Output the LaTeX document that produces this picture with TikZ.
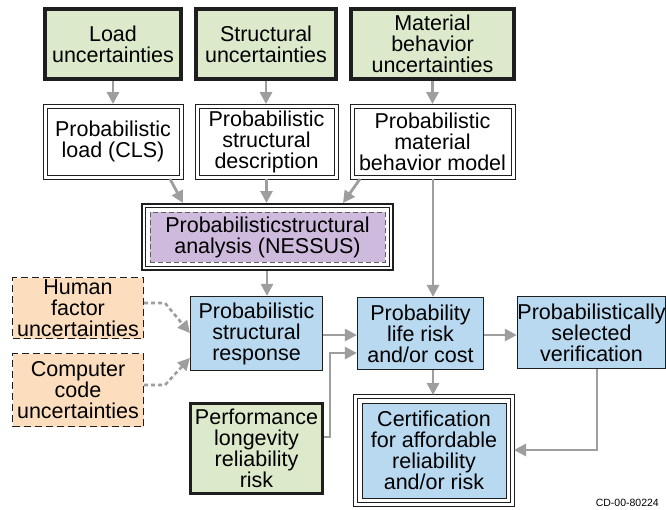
\documentclass[tikz,border=0pt]{standalone}
\usepackage{fontspec}
\setmainfont{Liberation Sans}
\usetikzlibrary{arrows.meta,calc}
\definecolor{boxgreen}{RGB}{220,234,203}
\definecolor{boxblue}{RGB}{184,217,240}
\definecolor{boxpurple}{RGB}{205,186,220}
\definecolor{boxorange}{RGB}{252,222,190}
\definecolor{linegray}{RGB}{158,158,158}
\definecolor{edge}{RGB}{30,30,30}
\begin{document}
\begin{tikzpicture}[x=1pt,y=-1pt,
  every node/.style={font=\fontsize{21.5}{21}\selectfont, align=center, inner sep=0pt},
  thickbox/.style={draw=edge, line width=3.5pt, fill=boxgreen},
  dblbox/.style={draw=edge, line width=0.9pt, fill=white},
  bluebox/.style={draw=edge, line width=1.2pt, fill=boxblue},
  dashbox/.style={draw=edge, line width=1.3pt, dash pattern=on 7pt off 4pt, fill=boxorange},
  inbox/.style={draw=edge!70, line width=0.8pt, dash pattern=on 5pt off 3pt, fill=boxpurple},
  arr/.style={draw=linegray, line width=2.8pt, -{Triangle[length=12pt,width=12pt]}},
  dotarr/.style={draw=linegray, line width=2.6pt, dash pattern=on 4pt off 3pt,
                 -{Triangle[length=12pt,width=12pt]}},
  frame/.style={draw=edge, line width=#1},
]
\useasboundingbox (0,0) rectangle (666,509);
\fill[white] (0,0) rectangle (666,509);

% top row: sources of uncertainty
\node[thickbox, minimum width=136pt, minimum height=70pt] (lu) at (113,44) {Load\\uncertainties};
\node[thickbox, minimum width=140pt, minimum height=70pt] (su) at (266,44) {Structural\\uncertainties};
\node[thickbox, minimum width=163pt, minimum height=70pt] (mu) at (432.5,44) {Material\\behavior\\uncertainties};

% second row: probabilistic models, each with a second outline
\node[dblbox, minimum width=132pt, minimum height=67pt] (pl) at (113,141.5)
  {\fontsize{21.5}{26}\selectfont Probabilistic\\load (CLS)};
\node[dblbox, minimum width=135pt, minimum height=67pt] (ps) at (266.5,141.5) {Probabilistic\\structural\\description};
\node[dblbox, minimum width=157pt, minimum height=67pt] (pm) at (432.5,141.5) {Probabilistic\\material\\behavior model};
\foreach \n in {pl,ps,pm}
  \draw[frame=0.9pt] ([shift={(-3.5pt,3.5pt)}]\n.north west) rectangle ([shift={(3.5pt,-3.5pt)}]\n.south east);

% structural analysis with framed border
\node[inbox, minimum width=235pt, minimum height=50pt] (nes) at (267.5,237)
  {Probabilisticstructural\\analysis (NESSUS)};
\draw[frame=0.9pt] ([shift={(-4pt,4pt)}]nes.north west) rectangle ([shift={(4pt,-4pt)}]nes.south east);
\draw[frame=2pt] ([shift={(-8pt,8pt)}]nes.north west) rectangle ([shift={(8pt,-8pt)}]nes.south east);

% additional uncertainties
\node[dashbox, minimum width=131pt, minimum height=61pt] (hf) at (78,308) {Human\\factor\\uncertainties};
\node[dashbox, minimum width=131pt, minimum height=73pt] (cc) at (78,390) {Computer\\code\\uncertainties};

% responses and decisions
\node[bluebox, minimum width=132pt, minimum height=74pt] (psr) at (256.5,333.5) {Probabilistic\\structural\\response};
\node[thickbox, minimum width=132pt, minimum height=90pt] (perf) at (256.5,448.5) {Performance\\longevity\\reliability\\risk};
\node[bluebox, minimum width=126pt, minimum height=72pt] (plr) at (420.5,333.5) {Probability\\life risk\\and/or cost};
\node[bluebox, minimum width=145pt, minimum height=72pt] (psv) at (591.5,332.5) {Probabilistically\\selected\\verification};

% certification with framed border
\node[bluebox, line width=0.9pt, minimum width=144pt, minimum height=95pt] (cert) at (434,450.5)
  {Certification\\for affordable\\reliability\\and/or risk};
\draw[frame=0.9pt] ([shift={(-4pt,4pt)}]cert.north west) rectangle ([shift={(4pt,-4pt)}]cert.south east);
\draw[frame=1.2pt] ([shift={(-8pt,8pt)}]cert.north west) rectangle ([shift={(8pt,-8pt)}]cert.south east);

\node[font=\fontsize{10.5}{12}\selectfont, anchor=east] (code) at (659,503) {CD-00-80224};

% connectors
\draw[arr] (lu.south) -- ([yshift=3.5pt]pl.north);
\draw[arr] (su.south) -- ([yshift=3.5pt]su.south |- ps.north);
\draw[arr] (mu.south) -- ([yshift=3.5pt]mu.south |- pm.north);
\draw[arr] ([yshift=-3.5pt]pl.south -| 170,0) -- (183,203);
\draw[arr] ([yshift=-3.5pt]ps.south) -- (266.5,203);
\draw[arr] ([yshift=-3.5pt]pm.south -| 360,0) -- (343,203);
\draw[arr] ([yshift=-3.5pt]pm.south -| 433,0) -- (plr.north -| 433,0);
\draw[arr] (267,271) -- (psr.north -| 267,0);
\draw[dotarr] (hf.east |- 0,303) -- (165,303) -- (psr.west |- 0,333);
\draw[dotarr] (cc.east |- 0,385) -- (165,385) -- (psr.west |- 0,358);
\draw[arr] (psr.east |- 0,335) -- (plr.west |- 0,335);
\draw[arr] (perf.east |- 0,437) -- (330,437) -- (330,353) -- (plr.west |- 0,353);
\draw[arr] (plr.east |- 0,335) -- (psv.west |- 0,335);
\draw[arr] (plr.south -| 433,0) -- (433,395);
\draw[arr] (psv.south -| 597,0) -- (597,450) -- (514,450);
\end{tikzpicture}
\end{document}
